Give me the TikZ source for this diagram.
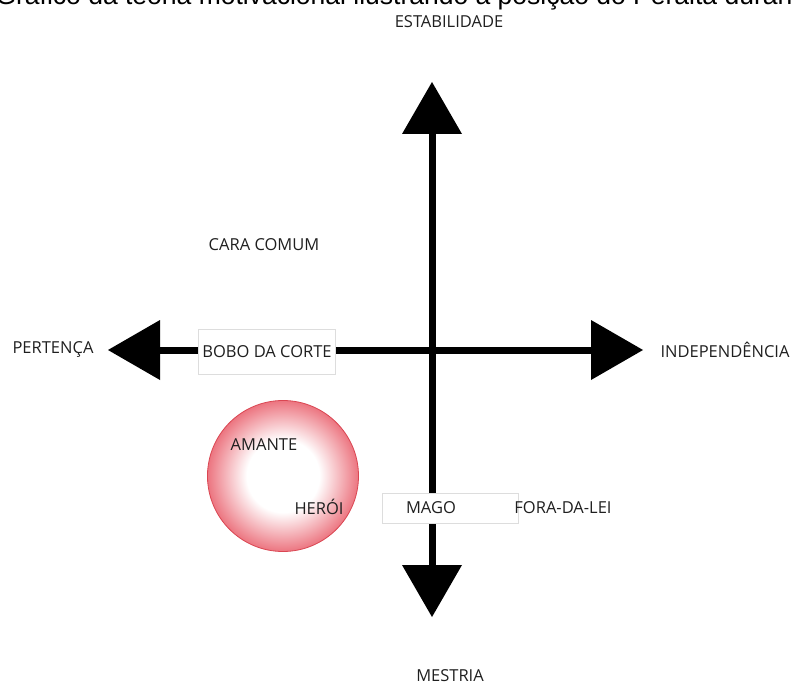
\documentclass[tikz,border=0pt]{standalone}
\usepackage{fontspec}
\setmainfont{Open Sans}
\newfontfamily\titlefont{Liberation Sans}
\usetikzlibrary{arrows.meta,positioning}
\definecolor{heartred}{HTML}{EC7580}
\definecolor{heartline}{HTML}{DA4652}
\definecolor{boxline}{HTML}{DDDDDD}
\pgfdeclareradialshading{loverglow}{\pgfpoint{0bp}{0bp}}{color(0bp)=(white);color(12bp)=(white);color(25bp)=(heartred);color(50bp)=(heartred)}

\begin{document}
\begin{tikzpicture}[x=1pt,y=-1pt,font=\fontsize{16.5}{19}\selectfont,
 axis/.style={line width=7pt,-{Triangle[width=60pt,length=52pt,line width=0pt]}},
 tag/.style={text=black!88,inner sep=0pt},
 card/.style={draw=boxline,fill=white,text=black!88,minimum width=137pt,minimum height=45pt,inner sep=0pt},
 lovers/.style={circle,draw=heartline,line width=0.8pt,shading=loverglow,minimum size=151pt,inner sep=0pt}]
\useasboundingbox (0,0) rectangle (792,687);
\clip (0,0) rectangle (792,687);
\node[anchor=base east,font=\titlefont\fontsize{26.5}{30}\selectfont] (title) at (796,5) {Gráfico da teoria motivacional ilustrando a posição do Peralta duran};
% axes
\coordinate (mid) at (432,350);
\coordinate (up) at (432,82);
\coordinate (down) at (432,617);
\coordinate (left) at (108,350);
\coordinate (right) at (643,350);
\draw[axis] (mid)--(up);
\draw[axis] (mid)--(down);
\draw[axis] (mid)--(left);
\draw[axis] (mid)--(right);
% poles
\node[tag] (estab) at (449,22) {ESTABILIDADE};
\node[tag] (mestria) at (450,676) {MESTRIA};
\node[tag] (pertenca) at (53,350) {PERTENÇA};
\node[tag] (indep) at (725,350) {INDEPENDÊNCIA};
% archetypes
\node[tag] (cara) at (264,245) {CARA COMUM};
\node[card] (bobo) at (267,352) {BOBO DA CORTE};
\node[card,minimum height=30pt,minimum width=136pt] (mago) at (450,508) {};
\node[tag] (magotxt) at (431,508) {MAGO};
\node[tag] (fora) at (563,508) {FORA-DA-LEI};
\node[lovers] (grupo) at (283,476) {};
\node[tag] (amante) at (264,445) {AMANTE};
\node[tag] (heroi) at (319,507) {HERÓI};
\end{tikzpicture}
\end{document}
